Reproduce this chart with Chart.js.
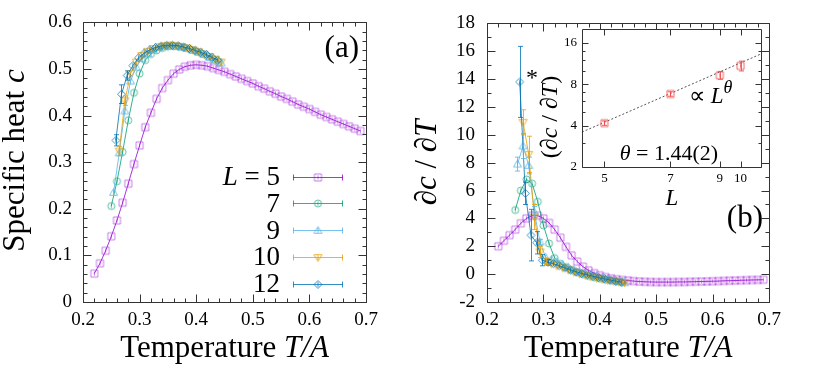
<!DOCTYPE html>
<html>
<head>
<meta charset="utf-8">
<script src="https://cdn.jsdelivr.net/npm/chart.js@4.4.0/dist/chart.umd.min.js"></script>
<style>
  html, body { margin: 0; padding: 0; background: #fff; }
  #wrap { position: relative; width: 830px; height: 369px; }
  #wrap canvas { position: absolute; left: 0; top: 0; }
</style>
</head>
<body>
<div id="wrap">
  <canvas id="chartA" width="830" height="369"></canvas>
  <canvas id="chartB" width="830" height="369"></canvas>
  <canvas id="chartC" width="830" height="369"></canvas>
</div>
<script>
/* ---------- data ---------- */
// L = 5
const T5 = [0.22, 0.23, 0.24, 0.25, 0.26, 0.27, 0.28, 0.29, 0.30, 0.31, 0.32, 0.33, 0.34, 0.35, 0.36, 0.37,
  0.38, 0.39, 0.40, 0.41, 0.42, 0.43, 0.44, 0.45, 0.46, 0.47, 0.48, 0.49, 0.50, 0.51, 0.52, 0.53,
  0.54, 0.55, 0.56, 0.57, 0.58, 0.59, 0.60, 0.61, 0.62, 0.63, 0.64, 0.65, 0.66, 0.67, 0.68, 0.69];
const c5 = [0.061, 0.083, 0.110, 0.141, 0.175, 0.213, 0.254, 0.296, 0.336, 0.375, 0.406, 0.436, 0.459, 0.476, 0.490, 0.499,
  0.505, 0.508, 0.509, 0.508, 0.506, 0.502, 0.498, 0.494, 0.489, 0.484, 0.479, 0.474, 0.469, 0.463, 0.458, 0.452,
  0.447, 0.441, 0.436, 0.430, 0.424, 0.419, 0.414, 0.408, 0.402, 0.397, 0.392, 0.387, 0.382, 0.377, 0.372, 0.367];
const d5 = [2.0, 2.4, 2.8, 3.2, 3.65, 4.0, 4.2, 4.2, 4.0, 3.68, 3.2, 2.62, 1.96, 1.35, 0.9, 0.54,
  0.27, 0.07, -0.08, -0.21, -0.3, -0.37, -0.42, -0.46, -0.5, -0.53, -0.55, -0.56, -0.57, -0.57, -0.57, -0.57,
  -0.56, -0.56, -0.55, -0.54, -0.53, -0.52, -0.51, -0.5, -0.48, -0.47, -0.46, -0.44, -0.43, -0.42, -0.41, -0.4];

// L = 7
const T7 = [0.25, 0.26, 0.27, 0.28, 0.29, 0.30, 0.31, 0.32, 0.33, 0.34, 0.35, 0.36, 0.37, 0.38, 0.39, 0.40, 0.41, 0.42, 0.43, 0.44];
const c7 = [0.206, 0.259, 0.322, 0.390, 0.449, 0.490, 0.519, 0.532, 0.540, 0.545, 0.548, 0.549, 0.548, 0.546, 0.542, 0.538, 0.533, 0.527, 0.521, 0.515];
const d7 = [4.6, 6.0, 6.8, 6.5, 5.2, 3.5, 2.2, 1.15, 0.75, 0.5, 0.3, 0.12, -0.02, -0.13, -0.23, -0.32, -0.4, -0.47, -0.53, -0.58];

// L = 9
const T9 = [0.254, 0.264, 0.274, 0.284, 0.294, 0.304, 0.314, 0.324, 0.334, 0.344, 0.354, 0.364, 0.374, 0.384, 0.394, 0.404, 0.414, 0.424, 0.434, 0.444];
const c9 = [0.235, 0.320, 0.410, 0.474, 0.504, 0.522, 0.533, 0.541, 0.546, 0.549, 0.550, 0.549, 0.547, 0.544, 0.540, 0.536, 0.531, 0.525, 0.519, 0.513];
const d9 = [7.9, 9.2, 7.8, 4.45, 2.3, 1.2, 1.05, 0.9, 0.7, 0.5, 0.33, 0.18, 0.06, -0.04, -0.14, -0.24, -0.34, -0.44, -0.54, -0.62];
const e9 = [0.5, 0.9, 0.6, 0.4, 0.2];

// L = 10
const T10 = [0.264, 0.274, 0.284, 0.294, 0.304, 0.314, 0.324, 0.334, 0.344, 0.354, 0.364, 0.374, 0.384, 0.394, 0.404, 0.414, 0.424, 0.434, 0.444];
const c10 = [0.324, 0.432, 0.490, 0.515, 0.529, 0.538, 0.544, 0.548, 0.550, 0.551, 0.550, 0.548, 0.545, 0.541, 0.537, 0.532, 0.527, 0.521, 0.515];
const d10 = [10.9, 8.6, 4.1, 1.6, 0.9, 0.75, 0.6, 0.45, 0.3, 0.15, 0.03, -0.08, -0.18, -0.28, -0.36, -0.44, -0.5, -0.56, -0.6];
const e10 = [0.9, 1.3, 0.9, 0.4, 0.2];
const ea10 = [0.01, 0.01];

// L = 12
const T12 = [0.258, 0.268, 0.278, 0.288, 0.298, 0.308, 0.318, 0.328, 0.338, 0.348, 0.358, 0.368, 0.378, 0.388, 0.398, 0.408, 0.418, 0.428, 0.438];
const c12 = [0.347, 0.446, 0.486, 0.507, 0.524, 0.534, 0.541, 0.546, 0.549, 0.551, 0.551, 0.550, 0.547, 0.544, 0.540, 0.536, 0.531, 0.525, 0.519];
const d12 = [13.8, 5.8, 2.8, 2.25, 1.0, 0.85, 0.75, 0.6, 0.45, 0.3, 0.17, 0.05, -0.05, -0.15, -0.25, -0.33, -0.42, -0.5, -0.57];
const e12 = [2.55, 0.8, 1.85, 0.8, 0.4, 0.2];
const ea12 = [0.012, 0.02, 0.01];

// inset: peak height vs L
const Lin = [5, 7, 9, 10];
const dIn = [4.17, 6.8, 9.3, 10.9];
const eIn = [0.15, 0.25, 0.6, 0.9];
const fitL = [4.46, 11.1];
const fitD = [3.59, 13.3];

const legendLabels = ["5", "7", "9", "10", "12"];

/* ---------- styles ---------- */
const FONT = '"Liberation Serif", "Times New Roman", serif';
const COLORS = {
  5: [148, 0, 211],
  7: [0, 158, 115],
  9: [86, 180, 233],
  10: [230, 159, 0],
  12: [0, 114, 178],
};
const rgba = (c, a) => "rgba(" + c[0] + "," + c[1] + "," + c[2] + "," + a + ")";

// small outline marker with the short vertical error tick inside
function marker(shape, color, r) {
  const s = 2 * Math.ceil(r) + 3;
  const cv = document.createElement("canvas");
  cv.width = s;
  cv.height = s;
  const g = cv.getContext("2d");
  const c = s / 2;
  g.strokeStyle = color;
  g.lineWidth = 1;
  g.beginPath();
  if (shape === "sq") g.rect(c - r, c - r, 2 * r, 2 * r);
  else if (shape === "ci") g.arc(c, c, r, 0, Math.PI * 2);
  else if (shape === "tu") { g.moveTo(c, c - r); g.lineTo(c + r, c + r * 0.7); g.lineTo(c - r, c + r * 0.7); g.closePath(); }
  else if (shape === "td") { g.moveTo(c, c + r); g.lineTo(c + r, c - r * 0.7); g.lineTo(c - r, c - r * 0.7); g.closePath(); }
  else if (shape === "di") { g.moveTo(c, c - r); g.lineTo(c + r, c); g.lineTo(c, c + r); g.lineTo(c - r, c); g.closePath(); }
  g.stroke();
  g.beginPath();
  g.moveTo(c, c - r * 0.6);
  g.lineTo(c, c + r * 0.6);
  g.stroke();
  return cv;
}

const MARK = {
  5: marker("sq", rgba(COLORS[5], 0.5), 3.5),
  7: marker("ci", rgba(COLORS[7], 0.65), 3.5),
  9: marker("tu", rgba(COLORS[9], 0.8), 4),
  10: marker("td", rgba(COLORS[10], 0.8), 4),
  12: marker("di", rgba(COLORS[12], 0.75), 4),
};
const redMark = marker("sq", "rgba(240,70,70,0.8)", 3.5);

function series(L, xs, ys, errs) {
  return {
    data: xs.map((x, i) => ({ x: x, y: ys[i] })),
    showLine: true,
    borderColor: rgba(COLORS[L], 0.8),
    borderWidth: 1,
    tension: 0,
    pointStyle: MARK[L],
    pointRadius: 4,
    errs: errs || null,
  };
}

/* ---------- plugins ---------- */
function ticksFrom(a, b, step) {
  const out = [];
  for (let v = a; v <= b + step / 1000; v += step) out.push(+v.toFixed(4));
  return out;
}

function framePlugin(xMaj, xMin, yMaj, yMin, majLen, minLen) {
  return {
    id: "frame",
    afterDatasetsDraw(chart) {
      const { ctx, chartArea: a, scales } = chart;
      const L = Math.round(a.left) + 0.5, R = Math.round(a.right) + 0.5;
      const T = Math.round(a.top) + 0.5, B = Math.round(a.bottom) + 0.5;
      ctx.save();
      ctx.strokeStyle = "#333";
      ctx.lineWidth = 1;
      ctx.beginPath();
      ctx.rect(L, T, R - L, B - T);
      const xt = (vals, len) => vals.forEach((v) => {
        const px = Math.round(scales.x.getPixelForValue(v)) + 0.5;
        ctx.moveTo(px, B); ctx.lineTo(px, B - len);
        ctx.moveTo(px, T); ctx.lineTo(px, T + len);
      });
      const yt = (vals, len) => vals.forEach((v) => {
        const py = Math.round(scales.y.getPixelForValue(v)) + 0.5;
        ctx.moveTo(L, py); ctx.lineTo(L + len, py);
        ctx.moveTo(R, py); ctx.lineTo(R - len, py);
      });
      xt(xMaj, majLen); xt(xMin, minLen);
      yt(yMaj, majLen); yt(yMin, minLen);
      ctx.stroke();
      ctx.restore();
    },
  };
}

const errorBars = {
  id: "errorBars",
  afterDatasetsDraw(chart) {
    const { ctx, scales: { x, y } } = chart;
    chart.data.datasets.forEach((d) => {
      if (!d.errs) return;
      ctx.save();
      ctx.strokeStyle = d.borderColor;
      ctx.lineWidth = 1;
      ctx.beginPath();
      d.data.forEach((p, i) => {
        const e = d.errs[i];
        if (!e) return;
        const px = Math.round(x.getPixelForValue(p.x)) + 0.5;
        const y1 = y.getPixelForValue(p.y - e);
        const y2 = y.getPixelForValue(p.y + e);
        ctx.moveTo(px, y1); ctx.lineTo(px, y2);
        ctx.moveTo(px - 2.5, y1); ctx.lineTo(px + 2.5, y1);
        ctx.moveTo(px - 2.5, y2); ctx.lineTo(px + 2.5, y2);
      });
      ctx.stroke();
      ctx.restore();
    });
  },
};

// mixed upright / italic text runs
function drawRich(ctx, item) {
  ctx.save();
  ctx.translate(item.x, item.y);
  if (item.rot) ctx.rotate(item.rot);
  const fonts = item.parts.map((p) => (p.i ? "italic " : "") + Math.round(item.size * (p.s || 1)) + "px " + FONT);
  let w = 0;
  const ws = item.parts.map((p, k) => {
    ctx.font = fonts[k];
    const m = ctx.measureText(p.t).width;
    w += m;
    return m;
  });
  let x0 = item.align === "center" ? -w / 2 : item.align === "right" ? -w : 0;
  ctx.fillStyle = "#000";
  ctx.textBaseline = "alphabetic";
  item.parts.forEach((p, k) => {
    ctx.font = fonts[k];
    ctx.fillText(p.t, x0, p.dy || 0);
    x0 += ws[k];
  });
  ctx.restore();
}

function textPlugin(items, extra) {
  return {
    id: "texts",
    afterDraw(chart) {
      items.forEach((it) => drawRich(chart.ctx, it));
      if (extra) extra(chart.ctx);
    },
  };
}

function axis(min, max, step, fmt, size, pad, fit) {
  return {
    type: "linear",
    min: min,
    max: max,
    grid: { display: false, drawTicks: false },
    border: { display: false },
    ticks: {
      stepSize: step,
      padding: pad,
      maxRotation: 0,
      autoSkip: false,
      color: "#000",
      font: { family: FONT, size: size },
      callback: fmt,
    },
    afterFit: fit,
  };
}

const baseOpts = (padding, scales) => ({
  responsive: false,
  animation: false,
  events: [],
  layout: { autoPadding: false, padding: padding },
  plugins: { legend: { display: false }, tooltip: { enabled: false } },
  scales: scales,
});

const fmt1 = (v) => (Math.abs(v) < 1e-9 ? "0" : v.toFixed(1));

/* ---------- panel (a) ---------- */
const legendOrder = [5, 7, 9, 10, 12];
function drawLegend(ctx) {
  legendOrder.forEach((L, k) => {
    const yRow = 176.5 + 26.8 * k;
    const yy = Math.round(yRow) + 0.5;
    ctx.save();
    ctx.strokeStyle = rgba(COLORS[L], 0.8);
    ctx.lineWidth = 1;
    ctx.beginPath();
    ctx.moveTo(293, yy); ctx.lineTo(343, yy);
    ctx.moveTo(293.5, yy - 3); ctx.lineTo(293.5, yy + 3);
    ctx.moveTo(342.5, yy - 3); ctx.lineTo(342.5, yy + 3);
    ctx.stroke();
    const m = MARK[L];
    ctx.drawImage(m, 318 - m.width / 2, yy - m.height / 2);
    ctx.restore();
    const parts = k === 0 ? [{ t: "L", i: true }, { t: " = " + legendLabels[k] }] : [{ t: legendLabels[k] }];
    drawRich(ctx, { x: 280, y: yRow + 8.5, size: 27, align: "right", parts: parts });
  });
}

new Chart(document.getElementById("chartA"), {
  type: "scatter",
  data: {
    datasets: [
      series(12, T12, c12, ea12),
      series(10, T10, c10, ea10),
      series(9, T9, c9),
      series(7, T7, c7),
      series(5, T5, c5),
    ],
  },
  options: baseOpts({ left: 0, top: 19, right: 464, bottom: 0 }, {
    x: axis(0.2, 0.7, 0.1, (v) => v.toFixed(1), 19, 7, (s) => { s.height = 67; }),
    y: axis(0, 0.6, 0.1, fmt1, 19, 11, (s) => { s.width = 83; }),
  }),
  plugins: [
    errorBars,
    framePlugin(ticksFrom(0.2, 0.7, 0.1), ticksFrom(0.2, 0.7, 0.02), ticksFrom(0, 0.6, 0.1), ticksFrom(0, 0.6, 0.02), 8, 4),
    textPlugin([
      { x: 24, y: 160.5, rot: -Math.PI / 2, size: 31, align: "center", parts: [{ t: "Specific heat " }, { t: "c", i: true }] },
      { x: 224.5, y: 357, size: 31, align: "center", parts: [{ t: "Temperature " }, { t: "T/A", i: true }] },
      { x: 359, y: 57, size: 31, align: "right", parts: [{ t: "(a)" }] },
    ], drawLegend),
  ],
});

/* ---------- panel (b) ---------- */
new Chart(document.getElementById("chartB"), {
  type: "scatter",
  data: {
    datasets: [
      series(12, T12, d12, e12),
      series(10, T10, d10, e10),
      series(9, T9, d9, e9),
      series(7, T7, d7),
      series(5, T5, d5),
    ],
  },
  options: baseOpts({ left: 400, top: 19, right: 61, bottom: 0 }, {
    x: axis(0.2, 0.7, 0.1, (v) => v.toFixed(1), 19, 7, (s) => { s.height = 67; }),
    y: axis(-2, 18, 2, (v) => String(v), 19, 12, (s) => { s.width = 87; }),
  }),
  plugins: [
    errorBars,
    framePlugin(ticksFrom(0.2, 0.7, 0.1), ticksFrom(0.2, 0.7, 0.02), ticksFrom(-2, 18, 2), ticksFrom(-2, 18, 1), 8, 4),
    textPlugin([
      { x: 436, y: 162.5, rot: -Math.PI / 2, size: 31, align: "center",
        parts: [{ t: "\u2202" }, { t: "c", i: true }, { t: " / \u2202" }, { t: "T", i: true }] },
      { x: 628, y: 357, size: 31, align: "center", parts: [{ t: "Temperature " }, { t: "T/A", i: true }] },
      { x: 763, y: 227, size: 31, align: "right", parts: [{ t: "(b)" }] },
      { x: 532, y: 85, size: 24, align: "center", parts: [{ t: "*" }] },
    ]),
  ],
});

/* ---------- inset ---------- */
const insetBg = {
  id: "insetBg",
  beforeDatasetsDraw(chart) {
    const a = chart.chartArea;
    chart.ctx.save();
    chart.ctx.fillStyle = "#fff";
    chart.ctx.fillRect(a.left, a.top, a.right - a.left, a.bottom - a.top);
    chart.ctx.restore();
  },
};

const logAxis = (min, max, vals, pad, fit) => ({
  type: "logarithmic",
  min: min,
  max: max,
  grid: { display: false, drawTicks: false },
  border: { display: false },
  afterBuildTicks: (s) => { s.ticks = vals.map((v) => ({ value: v })); },
  ticks: {
    padding: pad,
    maxRotation: 0,
    autoSkip: false,
    color: "#000",
    font: { family: FONT, size: 13 },
    callback: (v) => String(v),
  },
  afterFit: fit,
});

new Chart(document.getElementById("chartC"), {
  type: "scatter",
  data: {
    datasets: [
      {
        data: Lin.map((x, i) => ({ x: x, y: dIn[i] })),
        showLine: false,
        pointStyle: redMark,
        pointRadius: 4,
        borderColor: "rgba(240,70,70,0.85)",
        errs: eIn,
      },
      {
        data: fitL.map((x, i) => ({ x: x, y: fitD[i] })),
        showLine: true,
        pointRadius: 0,
        borderColor: "#555",
        borderWidth: 1,
        borderDash: [2, 2],
      },
    ],
  },
  options: baseOpts({ left: 540, top: 29, right: 69, bottom: 0 }, {
    x: logAxis(4.46, 11.1, Lin, 4, (s) => { s.height = 202; }),
    y: logAxis(2, 20.2, [2, 4, 8, 16], 5, (s) => { s.width = 42; }),
  }),
  plugins: [
    insetBg,
    errorBars,
    framePlugin(Lin, [], [2, 4, 8, 16], [3, 5, 6, 7, 10, 12, 14], 6, 3),
    textPlugin([
      { x: 557, y: 117, rot: -Math.PI / 2, size: 24, align: "center",
        parts: [{ t: "(\u2202" }, { t: "c", i: true }, { t: " / \u2202" }, { t: "T", i: true }, { t: ")" }] },
      { x: 672, y: 205, size: 23, align: "center", parts: [{ t: "L", i: true }] },
      { x: 689, y: 103, size: 23, align: "left",
        parts: [{ t: "\u221D " }, { t: "L", i: true }, { t: "\u03B8", i: true, s: 0.8, dy: -10 }] },
      { x: 669, y: 160, size: 22, align: "center",
        parts: [{ t: "\u03B8", i: true }, { t: " = 1.44(2)" }] },
    ]),
  ],
});
</script>
</body>
</html>
